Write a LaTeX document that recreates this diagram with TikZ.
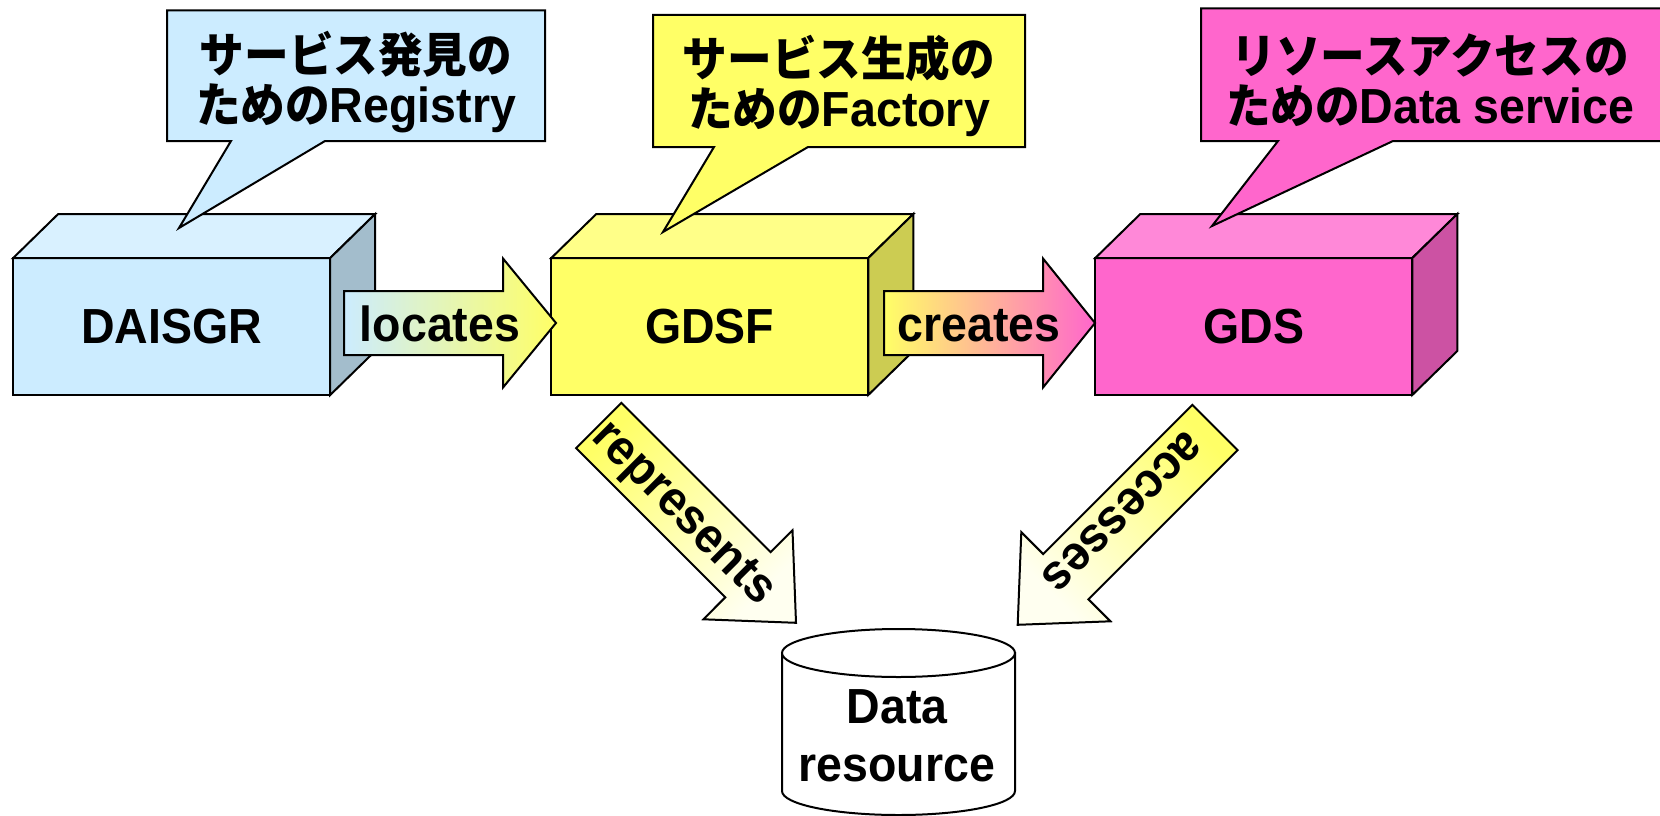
\documentclass[tikz,border=0pt]{standalone}
\usepackage{fontspec}
\setmainfont{Liberation Sans}
\newfontfamily\jp{Noto Sans CJK JP}[Scale=0.96]

% face colours of the three service boxes (front / top / side)
\definecolor{blueF}{HTML}{CCECFF}
\definecolor{blueT}{HTML}{D9F1FF}
\definecolor{blueS}{HTML}{A3BDCC}
\definecolor{yelF}{HTML}{FFFF66}
\definecolor{yelT}{HTML}{FFFF88}
\definecolor{yelS}{HTML}{CCCC52}
\definecolor{pinkF}{HTML}{FF66CC}
\definecolor{pinkT}{HTML}{FF88D8}
\definecolor{pinkS}{HTML}{CC52A3}
\definecolor{ivory}{HTML}{FFFFF0}

\newcommand\lblfont{\fontsize{46.5}{50}\selectfont\bfseries}
% slightly tall lettering
\newcommand\tall[1]{\scalebox{1}[1.06]{#1}}

\tikzset{
  outline/.style={draw=black, line width=2pt, line join=miter},
  lbl/.style={font=\lblfont, align=center, inner sep=0pt, outer sep=0pt},
  boxface/.style={outline, lbl, minimum width=317pt, minimum height=137pt},
}

% a solid box: front face is the named node, top and side are added behind it
\newcommand\cuboid[6]{%
  \node[boxface, fill=#3] (#1) at (#2) {\tall{#6}};
  \draw[outline, fill=#4] (#1.north west) -- ++(45,-44) -- ++(317,0) -- (#1.north east) -- cycle;
  \draw[outline, fill=#5] (#1.north east) -- ++(45,-44) -- ++(0,137) -- (#1.south east) -- cycle;
}

\begin{document}
\begin{tikzpicture}[x=1pt,y=-1pt]
\useasboundingbox (0,0) rectangle (1660,816);

% ---- service boxes ----
\cuboid{daisgr}{171.7,326.5}{blueF}{blueT}{blueS}{DAISGR}
\cuboid{gdsf}{709.8,326.5}{yelF}{yelT}{yelS}{GDSF}
\cuboid{gds}{1253.8,326.5}{pinkF}{pinkT}{pinkS}{GDS}

% ---- callouts ----
\draw[outline, fill=blueF] (167,10.5) -- (545,10.5) -- (545,141) -- (325,141)
  -- (179,228) -- (231,141) -- (167,141) -- cycle;
\node[lbl] (noteR) at (356,82) {\tall{\jp サービス発見の}\\\tall{{\jp ための}Registry}};

\draw[outline, fill=yelF] (653,15) -- (1025,15) -- (1025,147) -- (808,147)
  -- (663,232) -- (714,147) -- (653,147) -- cycle;
\node[lbl] (noteF) at (839,86) {\tall{\jp サービス生成の}\\\tall{{\jp ための}Factory}};

\draw[outline, fill=pinkF] (1201,8.5) -- (1662,8.5) -- (1662,141) -- (1393,141)
  -- (1212,226) -- (1278,141) -- (1201,141) -- cycle;
\node[lbl] (noteD) at (1430,80) {\tall{\jp リソースアクセスの}\\\tall{{\jp ための}Data service}};

% ---- horizontal block arrows ----
\draw[outline, left color=blueF, right color=yelF]
  (344,291) -- (503,291) -- (503,258.5) -- (556,323) -- (503,387.5) -- (503,355) -- (344,355) -- cycle;
\node[lbl, anchor=base] (locates) at (440,341) {\tall{locates}};

\draw[outline, left color=yelF, right color=pinkF]
  (884,291) -- (1043,291) -- (1043,258.5) -- (1095,323) -- (1043,387.5) -- (1043,355) -- (884,355) -- cycle;
\node[lbl, anchor=base] (creates) at (979,341) {\tall{creates}};

% ---- diagonal block arrows ----
\draw[outline, top color=yelF, bottom color=ivory, shading angle=45]
  (621.4,402.9) -- (770.6,552.1) -- (792.5,530.2) -- (796.0,622.8)
  -- (703.4,619.3) -- (725.3,597.3) -- (576.1,448.1) -- cycle;
\node[lbl, rotate=-45] (represents) at (682,515) {\tall{represents}};

\draw[outline, top color=yelF, bottom color=ivory, shading angle=-45]
  (1237.6,450.1) -- (1088.4,599.3) -- (1110.4,621.3) -- (1017.7,624.8)
  -- (1021.3,532.2) -- (1043.2,554.1) -- (1192.4,404.9) -- cycle;
\node[lbl, rotate=225] (accesses) at (1122,511.5) {\tall{accesses}};

% ---- data resource cylinder ----
\draw[outline, fill=white] (782,653) -- (782,791)
  arc[start angle=180, end angle=0, x radius=116.5, y radius=24] -- (1015,653) -- cycle;
\draw[outline, fill=white] (898.5,653) ellipse [x radius=116.5, y radius=24];
\node[lbl, font=\fontsize{46.5}{58}\selectfont\bfseries] (data) at (897,736) {\tall{Data}\\\tall{resource}};
\end{tikzpicture}
\end{document}
